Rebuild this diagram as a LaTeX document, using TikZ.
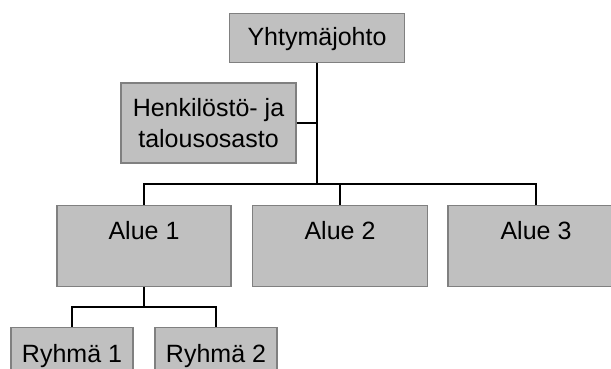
\documentclass[tikz,border=0pt]{standalone}
\usepackage{fontspec}
\setmainfont{Liberation Sans}
\definecolor{boxfill}{HTML}{C0C0C0}
\definecolor{boxline}{HTML}{808080}
\begin{document}
\begin{tikzpicture}[x=1pt,y=1pt,
  box/.style={draw=boxline, fill=boxfill, line width=1.2pt, inner sep=0pt,
              font=\fontsize{25}{31}\selectfont},
  link/.style={draw=black, line width=1.4pt}]
\useasboundingbox (0,0) rectangle (611,369);

% management
\node[box, minimum width=175pt, text height=32pt, text depth=17pt, anchor=north]
  (top) at (317,356) {Yhtymäjohto};
\node[box, align=center, minimum width=175pt, minimum height=80pt]
  (hr) at (208.5,246) {Henkilöstö- ja\\talousosasto};

% areas
\node[box, minimum width=174pt, text height=34pt, text depth=47pt, anchor=north]
  (alue1) at (144,164) {Alue 1};
\node[box, minimum width=175pt, text height=34pt, text depth=47pt, anchor=north]
  (alue2) at (340,164) {Alue 2};
\node[box, minimum width=176pt, text height=34pt, text depth=47pt, anchor=north]
  (alue3) at (536,164) {Alue 3};

% groups
\node[box, minimum width=122pt, text height=35pt, text depth=14pt, anchor=north]
  (r1) at (72,42) {Ryhmä 1};
\node[box, minimum width=122pt, text height=35pt, text depth=14pt, anchor=north]
  (r2) at (216,42) {Ryhmä 2};

% connectors
\coordinate (bus) at (317,185);
\coordinate (sub) at (144,62);
\draw[link] (top.south) -- (bus);
\draw[link] (hr.east) -- (hr.east -| bus);
\draw[link] (alue1.north) |- (bus) -| (alue3.north);
\draw[link] (alue2.north) -- (alue2.north |- bus);
\draw[link] (alue1.south) -- (sub);
\draw[link] (r1.north) |- (sub) -| (r2.north);
\end{tikzpicture}
\end{document}
